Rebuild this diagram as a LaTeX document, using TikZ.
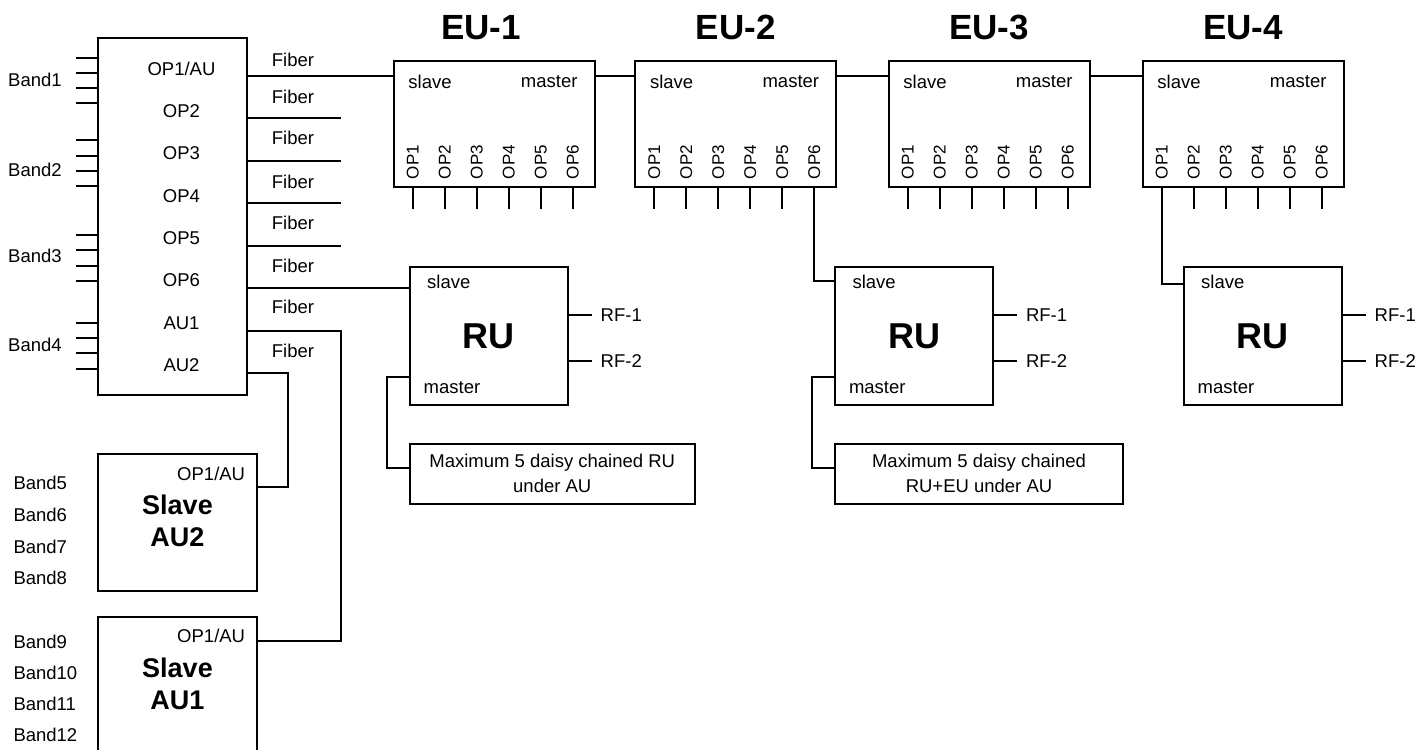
\documentclass[tikz,border=0pt]{standalone}
\usepackage{fontspec}
\setmainfont{Liberation Sans}
\usepackage{tikz}
\usetikzlibrary{positioning}

\begin{document}
\begin{tikzpicture}[
    x=1pt,y=-1pt,
    font=\fontsize{18.5}{25}\selectfont,
    box/.style={rectangle,draw,line width=2pt,inner sep=0pt,anchor=north west},
    note/.style={box,minimum height=59.5pt,align=center},
    lbl/.style={inner sep=0pt},
    oplbl/.style={inner sep=0pt,rotate=90,font=\fontsize{17}{20}\selectfont},
    eutitle/.style={inner sep=0pt,font=\fontsize{35}{40}\selectfont\bfseries},
    rutitle/.style={inner sep=0pt,font=\fontsize{36}{40}\selectfont\bfseries},
    unitname/.style={inner sep=0pt,align=center,font=\fontsize{27}{31.7}\selectfont\bfseries},
    wire/.style={line width=2pt}
]
    \useasboundingbox (0,0) rectangle (1423,749);

    % master AU
    \node[box,minimum width=149pt,minimum height=357pt] (au) at (97,37) {};
    \foreach \txt [count=\i] in {{OP1/AU},OP2,OP3,OP4,OP5,OP6,AU1,AU2}
        \node[lbl] (au\i) at (181.5,{69+42.3*(\i-1)}) {\txt};

    \foreach \bn/\y in {1/80,2/170,3/255.7,4/345}
        \node[lbl,anchor=west] (band\bn) at (8,\y) {Band\bn};
    \foreach \y in {57.7,72.7,88.3,103.3,140,155.7,170.7,185.7,235,250,265.7,281,322.7,338.3,353.3,369}{
        \coordinate (bt) at (76,\y);
        \draw[wire] (bt) -- (bt -| au.west);
    }

    % fibers
    \coordinate (fe) at (341,0);
    \foreach \i/\yl in {1/60,2/96.7,3/138.3,4/181.7,5/223.3,6/265.7,7/307.3,8/350.7}{
        \coordinate (fo\i) at (246,{75.7+42.5*(\i-1)});
        \node[lbl,anchor=west] (fl\i) at (271.7,\yl) {Fiber};
    }
    \foreach \i in {2,...,5}
        \draw[wire] (fo\i) -- (fo\i -| fe);

    % expansion units
    \foreach \n/\x/\dx in {1/392.7/-13,2/634.3/0,3/887.7/0,4/1141.7/0}{
        \node[box,minimum width=201pt,minimum height=126pt] (eu\n) at (\x,60) {};
        \node[eutitle,above=20pt of eu\n,xshift=\dx pt] (eut\n) {EU-\n};
        \node[lbl,anchor=west] (eus\n) at ([xshift=15.5pt,yshift=-21.7pt]eu\n.north west) {slave};
        \node[lbl,anchor=east] (eum\n) at ([xshift=-18pt,yshift=-21.7pt]eu\n.north east) {master};
        \foreach \p/\dxp in {1/20,2/52,3/84,4/116,5/148,6/180}{
            \coordinate (eu\n p\p) at ([xshift=\dxp pt]eu\n.south west);
            \coordinate (eu\n t\p) at ([xshift=\dxp pt,yshift=-21pt]eu\n.south west);
            \node[oplbl] (eu\n op\p) at ([yshift=26pt]eu\n p\p) {OP\p};
            \draw[wire] (eu\n p\p) -- (eu\n t\p);
        }
    }
    \foreach \a/\c in {1/2,2/3,3/4}
        \draw[wire] ([yshift=-16pt]eu\a.north east) -- ([yshift=-16pt]eu\c.north west);
    \draw[wire] (fo1) -- (fo1 -| eu1.west);

    % remote units
    \foreach \n/\x in {1/409,2/834.3,3/1183}{
        \node[box,minimum width=157.5pt,minimum height=138.6pt] (ru\n) at (\x,265.7) {};
        \node[rutitle] (rut\n) at (ru\n.center) {RU};
        \node[lbl,anchor=west] (rus\n) at ([xshift=18pt,yshift=-16.3pt]ru\n.north west) {slave};
        \node[lbl,anchor=west] (rum\n) at ([xshift=14.5pt,yshift=-122.3pt]ru\n.north west) {master};
        \foreach \r/\dy in {1/49,2/95.3}{
            \coordinate (ru\n rf\r) at ([xshift=23pt,yshift=-\dy pt]ru\n.north east);
            \draw[wire] (ru\n rf\r -| ru\n.east) -- (ru\n rf\r);
            \node[lbl,anchor=west] (ru\n rfl\r) at ([xshift=9pt]ru\n rf\r) {RF-\r};
        }
    }
    \draw[wire] (fo6) -- (fo6 -| ru1.west);
    \coordinate (ru2in) at ([yshift=-15pt]ru2.north west);
    \coordinate (ru3in) at ([yshift=-18.3pt]ru3.north west);
    \draw[wire] (eu2p6) |- (ru2in);
    \draw[wire] (eu4p1) |- (ru3in);

    \node[note,minimum width=284.5pt] (note1) at (409,443) {Maximum 5 daisy chained RU\\under AU};
    \node[note,minimum width=287.4pt] (note2) at (834.3,443) {Maximum 5 daisy chained\\RU+EU under AU};
    \foreach \n in {1,2}
        \draw[wire] ([yshift=-111pt]ru\n.north west) -- ++(-22,0) |- ([yshift=6pt]note\n.west);

    % slave AUs
    \foreach \n/\y/\dy in {2/453.3/33.4,1/616/24.7}{
        \node[box,minimum width=159pt,minimum height=137pt] (sau\n) at (97,\y) {};
        \node[lbl,anchor=east] (sau\n op) at ([xshift=-12.7pt,yshift=-20.3pt]sau\n.north east) {OP1/AU};
        \node[unitname] (sau\n t) at ([yshift=-67.5pt]sau\n.north) {Slave\\AU\n};
        \coordinate (sau\n in) at ([yshift=-\dy pt]sau\n.north east);
    }
    \draw[wire] (fo7) -- (fo7 -| fe) |- (sau1in);
    \draw[wire] (fo8) -- ++(42.3,0) |- (sau2in);
    \foreach \bn/\y in {5/483.3,6/515,7/546.7,8/577.7,9/641.7,10/672.7,11/704.3,12/735}
        \node[lbl,anchor=west] (band\bn) at (13.3,\y) {Band\bn};
\end{tikzpicture}
\end{document}
